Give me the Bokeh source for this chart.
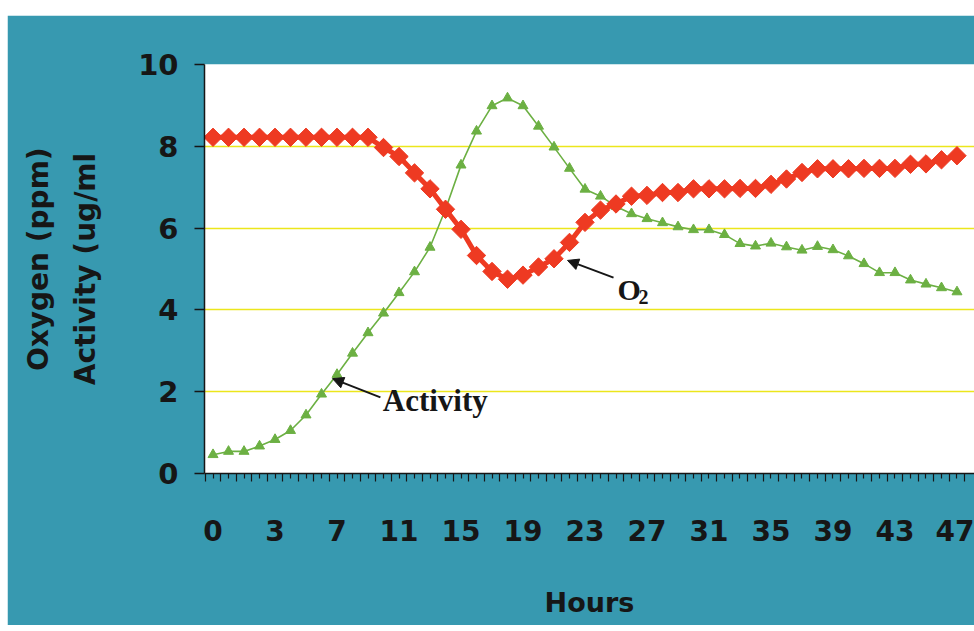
import math
from bokeh.plotting import figure
from bokeh.models import (Range1d, FixedTicker, Label, Arrow, NormalHead, Spacer,
                          ColumnDataSource, LinearAxis)
from bokeh.layouts import column, row
from bokeh.embed import file_html
from bokeh.resources import INLINE

# ---- data ----
hour_index = list(range(49))
tick_index = [0, 4, 8, 12, 16, 20, 24, 28, 32, 36, 40, 44, 48]
tick_labels = ["0", "3", "7", "11", "15", "19", "23", "27", "31", "35", "39", "43", "47"]

oxygen = [8.22, 8.22, 8.22, 8.22, 8.22, 8.22, 8.22, 8.22, 8.22, 8.22, 8.22,
          7.97, 7.75, 7.35, 6.96, 6.46, 5.97, 5.33, 4.94, 4.75, 4.85, 5.05,
          5.25, 5.65, 6.14, 6.44, 6.59, 6.78, 6.80, 6.87, 6.87, 6.96, 6.96,
          6.96, 6.97, 6.97, 7.07, 7.20, 7.36, 7.45, 7.45, 7.45, 7.46, 7.46,
          7.46, 7.56, 7.57, 7.67, 7.77]

activity = [0.46, 0.54, 0.54, 0.67, 0.83, 1.05, 1.43, 1.94, 2.42, 2.94, 3.44,
            3.92, 4.42, 4.93, 5.53, 6.46, 7.54, 8.37, 8.99, 9.18, 8.99, 8.49,
            7.98, 7.46, 6.95, 6.78, 6.53, 6.35, 6.23, 6.13, 6.03, 5.96, 5.96,
            5.84, 5.62, 5.56, 5.63, 5.54, 5.46, 5.55, 5.47, 5.32, 5.13, 4.91,
            4.91, 4.73, 4.63, 4.54, 4.44]

y_ticks = [0, 2, 4, 6, 8, 10]

TEAL = "#3799b0"
RED = "#ee3a22"
GREEN = "#6cb043"
GRID = "#ece61c"
INK = "#161616"
SANS = "DejaVu Sans"
SERIF = "Liberation Serif"

src = ColumnDataSource(dict(x=hour_index, o2=oxygen, act=activity))

p = figure(width=967, height=610, output_backend="svg", toolbar_location=None,
           x_range=Range1d(-0.55, 49.13), y_range=Range1d(0, 10),
           min_border_left=197, min_border_right=0, min_border_top=49,
           min_border_bottom=152)
p.background_fill_color = "white"
p.border_fill_color = TEAL
p.outline_line_color = None

# grid
p.xgrid.visible = False
p.ygrid.grid_line_color = GRID
p.ygrid.grid_line_width = 1.6

# y axis
p.yaxis.ticker = FixedTicker(ticks=y_ticks)
p.yaxis.axis_line_color = INK
p.yaxis.axis_line_width = 1.5
p.yaxis.major_tick_line_color = INK
p.yaxis.major_tick_line_width = 1.5
p.yaxis.major_tick_out = 10
p.yaxis.major_tick_in = 0
p.yaxis.minor_tick_line_color = None
p.yaxis.major_label_standoff = 16
p.yaxis.major_label_text_font = SANS
p.yaxis.major_label_text_font_style = "bold"
p.yaxis.major_label_text_font_size = "29px"
p.yaxis.major_label_text_color = INK
p.yaxis.axis_label = "Activity (ug/ml"
p.yaxis.axis_label_text_font = SANS
p.yaxis.axis_label_text_font_style = "bold"
p.yaxis.axis_label_text_font_size = "28px"
p.yaxis.axis_label_text_color = INK
p.yaxis.axis_label_standoff = 33

# outer y title line
outer = LinearAxis(ticker=FixedTicker(ticks=[]), axis_label="\u00a0\u00a0Oxygen (ppm)",
                   axis_line_color=None, major_tick_line_color=None,
                   minor_tick_line_color=None, major_tick_out=0, major_tick_in=0,
                   minor_tick_out=0, minor_tick_in=0, major_label_standoff=0,
                   axis_label_standoff=12, axis_label_text_font=SANS,
                   axis_label_text_font_style="bold",
                   axis_label_text_font_size="28px", axis_label_text_color=INK)
p.add_layout(outer, "left")

# x axis
minor = [i + 0.5 for i in range(-1, 50)]
p.xaxis.ticker = FixedTicker(ticks=hour_index, minor_ticks=minor)
overrides = {i: "" for i in hour_index}
for i, lab in zip(tick_index, tick_labels):
    overrides[i] = lab
p.xaxis.major_label_overrides = overrides
p.xaxis.axis_line_color = INK
p.xaxis.axis_line_width = 1.5
p.xaxis.major_tick_line_color = INK
p.xaxis.major_tick_line_width = 1.2
p.xaxis.major_tick_out = 5
p.xaxis.major_tick_in = 0
p.xaxis.minor_tick_line_color = INK
p.xaxis.minor_tick_line_width = 1.2
p.xaxis.minor_tick_out = 8
p.xaxis.minor_tick_in = 0
p.xaxis.major_label_standoff = 38
p.xaxis.major_label_text_font = SANS
p.xaxis.major_label_text_font_style = "bold"
p.xaxis.major_label_text_font_size = "28px"
p.xaxis.major_label_text_color = INK
p.xaxis.axis_label = "Hours"
p.xaxis.axis_label_text_font = SANS
p.xaxis.axis_label_text_font_style = "bold"
p.xaxis.axis_label_text_font_size = "27px"
p.xaxis.axis_label_text_color = INK
p.xaxis.axis_label_standoff = 43

# series
p.line("x", "act", source=src, line_color=GREEN, line_width=1.6)
p.scatter("x", "act", source=src, marker="triangle", size=10,
          fill_color=GREEN, line_color=GREEN)
p.line("x", "o2", source=src, line_color=RED, line_width=5)
p.scatter("x", "o2", source=src, marker="square", angle=math.pi / 4, size=13,
          fill_color=RED, line_color=RED)

# annotations
head = dict(size=11, fill_color=INK, line_color=INK)
p.add_layout(Arrow(end=NormalHead(**head), x_start=25.84, y_start=4.79,
                   x_end=22.87, y_end=5.21, line_color=INK, line_width=2))
p.add_layout(Arrow(end=NormalHead(**head), x_start=10.8, y_start=1.86,
                   x_end=7.71, y_end=2.32, line_color=INK, line_width=2))

p.add_layout(Label(x=26.1, y=4.50, text="O", text_font=SERIF,
                   text_font_style="bold", text_font_size="30px",
                   text_color=INK, text_baseline="alphabetic"))
p.add_layout(Label(x=27.45, y=4.32, text="2", text_font=SERIF,
                   text_font_style="bold", text_font_size="20px",
                   text_color=INK, text_baseline="alphabetic"))
p.add_layout(Label(x=10.95, y=1.79, text="Activity", text_font=SERIF,
                   text_font_style="bold", text_font_size="31px",
                   text_color=INK, text_baseline="alphabetic"))

layout = column(Spacer(width=974, height=15), row(Spacer(width=7, height=610), p))
open("out.html", "w").write(file_html(layout, INLINE))
